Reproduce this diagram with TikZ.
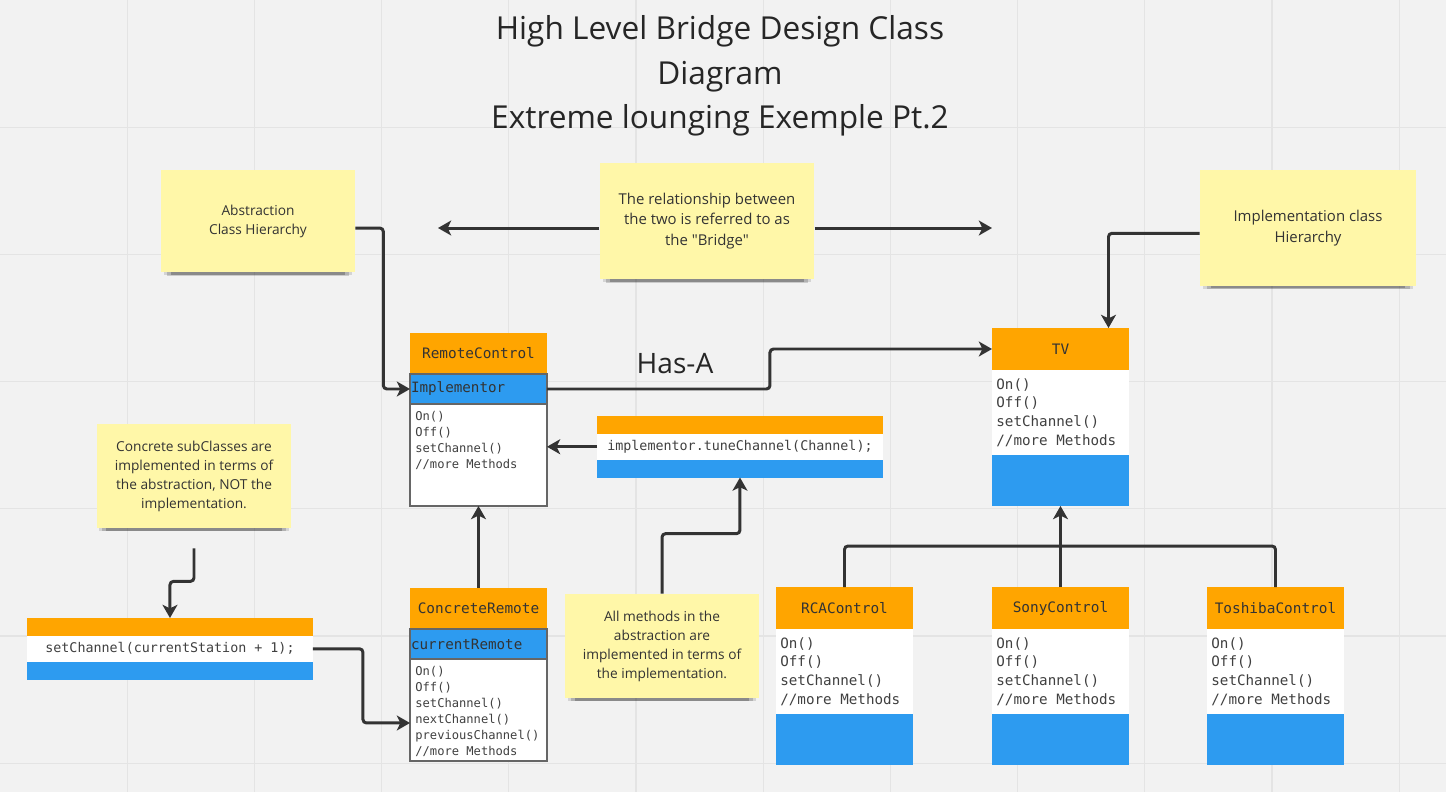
\documentclass[tikz,border=0pt]{standalone}
\usepackage{fontspec}
\setmainfont{Open Sans}[Ligatures=TeXOff]
\setmonofont{DejaVu Sans Mono}
\usetikzlibrary{arrows.meta, positioning, calc, shadows}
\definecolor{board}{HTML}{F2F2F2}
\definecolor{gridgray}{HTML}{E4E4E4}
\definecolor{ink}{HTML}{333333}
\definecolor{hdrorange}{HTML}{FFA500}
\definecolor{fieldblue}{HTML}{2D9BF0}
\definecolor{stickyyellow}{HTML}{FFF7A8}
\tikzset{
  sticky/.style={fill=stickyyellow, align=center, text=ink,
    font=\fontsize{7.8}{10.8}\selectfont,
    drop shadow={shadow xshift=0pt, shadow yshift=-2.5pt, shadow scale=0.97,
      fill=black, opacity=0.12},
    drop shadow={shadow xshift=0pt, shadow yshift=-4pt, shadow scale=0.94,
      fill=black, opacity=0.16},
    drop shadow={shadow xshift=0pt, shadow yshift=-5pt, shadow scale=0.90,
      fill=black, opacity=0.22}},
  bigsticky/.style={font=\fontsize{8.5}{11.8}\selectfont},
  titletext/.style={align=center, text=black!85, font=\fontsize{18}{25.3}\selectfont},
  hasalabel/.style={text=black!85, font=\fontsize{16}{18}\selectfont},
  clshead/.style={fill=hdrorange, text=ink, minimum width=2.74cm, outer sep=0pt,
    font=\ttfamily\fontsize{8.2}{10}\selectfont},
  clsfield/.style={fill=fieldblue, text=ink, text width=2.70cm, inner xsep=0.02cm,
    align=left, minimum height=0.60cm, outer sep=0pt,
    font=\ttfamily\fontsize{8.1}{10}\selectfont},
  clsbody/.style={fill=white, minimum width=2.74cm, inner sep=0pt, outer sep=0pt},
  clsfoot/.style={fill=fieldblue, minimum width=2.74cm, minimum height=1.02cm,
    inner sep=0pt, outer sep=0pt},
  clsframe/.style={draw=black!60, line width=0.6pt},
  smallmeth/.style={align=left, text=black!75, inner xsep=0.1cm, inner ysep=0.14cm,
    font=\ttfamily\fontsize{6.9}{9.1}\selectfont},
  bigmeth/.style={align=left, text=black!75, inner xsep=0.08cm,
    font=\ttfamily\fontsize{8.1}{10.6}\selectfont},
  codestrip/.style={minimum width=5.72cm, minimum height=0.36cm, inner sep=0pt,
    outer sep=0pt},
  codeline/.style={fill=white, text=black!75, minimum width=5.72cm, minimum height=0.51cm,
    inner sep=0pt, outer sep=0pt, font=\ttfamily\fontsize{7.6}{9}\selectfont},
  conn/.style={draw=ink, line width=1.7pt, rounded corners=2pt,
    -{Stealth[length=7.5pt, width=8.5pt, inset=2pt]}},
  hierline/.style={draw=ink, line width=1.7pt, rounded corners=2pt},
}
% abstraction side: header, field row, methods
\newcommand\AbsClass[5]{%
  \node (#1-h) [clshead, minimum height=0.82cm, anchor=north west] at (#2) {#3};
  \node (#1-f) [clsfield, below=0pt of #1-h] {#4};
  \node (#1-b) [clsbody, minimum height=2.04cm, below=0pt of #1-f] {};
  \node (#1-m) [smallmeth, anchor=north west] at (#1-b.north west) {#5};
  \draw [clsframe] (#1-f.north west) rectangle (#1-b.south east);
  \draw [clsframe] (#1-f.south west) -- (#1-f.south east);
}
% implementation side: header, methods, empty blue foot
\newcommand\ImpClass[4]{%
  \node (#1-h) [clshead, minimum height=0.84cm, anchor=north west] at (#2) {#3};
  \node (#1-b) [clsbody, minimum height=1.70cm, below=0pt of #1-h] {};
  \node (#1-m) [bigmeth, anchor=west] at (#1-b.west) {#4};
  \node (#1-f) [clsfoot, below=0pt of #1-b] {};
}
\newcommand\CodeBox[3]{%
  \node (#1-h) [codestrip, fill=hdrorange, anchor=north west] at (#2) {};
  \node (#1-m) [codeline, below=0pt of #1-h] {#3};
  \node (#1-f) [codestrip, fill=fieldblue, below=0pt of #1-m] {};
}

\begin{document}
\begin{tikzpicture}[x=0.02cm, y=-0.02cm]
  \useasboundingbox (0,0) rectangle (1446,792);
  \fill[board] (0,0) rectangle (1446,792);
  \foreach \k in {1,...,11}
    \draw[gridgray, line width=0.6pt] (\k*127.2,0) -- (\k*127.2,792);
  \foreach \k in {1,...,6}
    \draw[gridgray, line width=0.6pt] (0,\k*127.2) -- (1446,\k*127.2);

  \node (title) [titletext] at (720,76)
    {High Level Bridge Design Class\\Diagram\\Extreme lounging Exemple Pt.2};

  % notes
  \node (abs) [sticky, minimum width=3.88cm, minimum height=2.06cm] at (258,221)
    {Abstraction\\Class Hierarchy};
  \node (bridge) [sticky, bigsticky, minimum width=4.30cm, minimum height=2.34cm] at (707,221)
    {The relationship between\\the two is referred to as\\the "Bridge"};
  \node (impl) [sticky, bigsticky, minimum width=4.32cm, minimum height=2.32cm] at (1308,228)
    {Implementation class\\Hierarchy};
  \node (concrete) [sticky, minimum width=3.90cm, minimum height=2.08cm] at (194,476)
    {Concrete subClasses are\\implemented in terms of\\the abstraction, NOT the\\implementation.};
  \node (allm) [sticky, minimum width=3.88cm, minimum height=2.08cm] at (662,646)
    {All methods in the\\abstraction are\\implemented in terms of\\the implementation.};

  % classes
  \AbsClass{rc}{410,333}{RemoteControl}{Implementor}
    {On()\\Off()\\setChannel()\\//more Methods}
  \AbsClass{cr}{410,588}{ConcreteRemote}{currentRemote}
    {On()\\Off()\\setChannel()\\nextChannel()\\previousChannel()\\//more Methods}
  \ImpClass{tv}{992,328}{TV}{On()\\Off()\\setChannel()\\//more Methods}
  \ImpClass{rca}{776,587}{RCAControl}{On()\\Off()\\setChannel()\\//more Methods}
  \ImpClass{sony}{992,587}{SonyControl}{On()\\Off()\\setChannel()\\//more Methods}
  \ImpClass{tosh}{1207,587}{ToshibaControl}{On()\\Off()\\setChannel()\\//more Methods}
  \CodeBox{tune}{597,416}{implementor.tuneChannel(Channel);}
  \CodeBox{setch}{27,618}{setChannel(currentStation + 1);}

  % connectors
  \draw[conn] ([yshift=-4pt]abs.east) -- ++(28,0) |- (rc-f.west);
  \coordinate (bridgeL) at (438,228);
  \coordinate (bridgeR) at (992,228);
  \draw[conn] (bridge.west |- bridgeL) -- (bridgeL);
  \draw[conn] (bridge.east |- bridgeR) -- (bridgeR);
  \draw[conn] ([yshift=-3pt]impl.west) -| ($(tv-h.north)+(48,0)$);
  \draw[conn] (rc-f.east) -- ++(223,0) |- (tv-h.west);
  \node (hasa) [hasalabel] at (675,364) {Has-A};
  \draw[conn] (tune-m.west) -- (tune-m.west -| rc-b.east);
  \draw[conn] (cr-h.north) -- (rc-b.south);
  \draw[conn] (allm.north) -- ++(0,-60) -| (tune-f.south);
  \draw[conn] ($(concrete.south)+(0,20)$) -- ++(0,33) -| (setch-h.north);
  \draw[conn] (setch-m.east) -- ++(50,0) |- ($(cr-b.west)+(0,13)$);
  \coordinate (fork) at (1060,546);
  \draw[hierline] (rca-h.north) |- (fork) -| (tosh-h.north);
  \draw[conn] (sony-h.north) -- (tv-f.south);
\end{tikzpicture}
\end{document}
